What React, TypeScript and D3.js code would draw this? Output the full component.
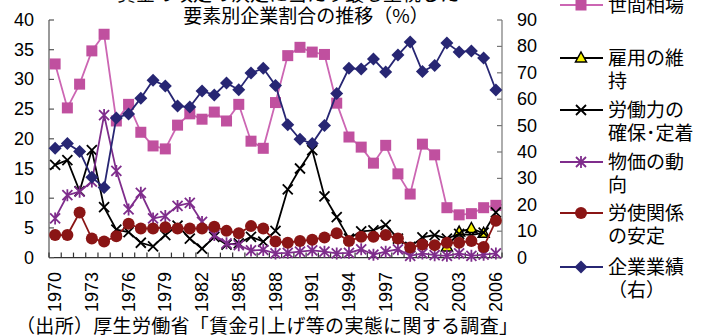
import React from "react";
import * as d3 from "d3";

const years = [1970,1971,1972,1973,1974,1975,1976,1977,1978,1979,1980,1981,1982,1983,1984,1985,1986,1987,1988,1989,1990,1991,1992,1993,1994,1995,1996,1997,1998,1999,2000,2001,2002,2003,2004,2005,2006];
const yearLabels = [1970,1973,1976,1979,1982,1985,1988,1991,1994,1997,2000,2003,2006];
const leftTicks = [0,5,10,15,20,25,30,35,40];
const rightTicks = [0,10,20,30,40,50,60,70,80,90];

const sekenSoba = [32.6,25.2,29.2,34.8,37.6,23.0,25.8,21.1,18.8,18.3,22.3,24.2,23.3,24.5,23.0,25.8,19.6,18.4,26.1,34.0,35.4,34.6,34.2,26.0,20.3,18.6,15.9,18.9,14.1,10.7,19.1,17.3,8.4,7.2,7.4,8.4,8.8];
const koyoIji: (number|null)[] = [null,null,null,null,null,null,null,null,null,null,null,null,null,null,null,null,null,null,null,null,null,null,null,null,null,null,null,null,null,null,null,null,1.8,4.3,4.9,4.1,null];
const rodoryoku = [15.6,16.4,11.2,18.1,8.5,4.7,4.3,2.5,1.9,3.8,5.4,3.2,1.5,3.5,2.2,2.4,3.5,2.7,4.5,11.5,15.0,18.1,10.3,6.8,3.2,4.4,4.6,5.5,3.2,1.8,3.4,3.8,3.2,4.0,3.8,4.2,7.6];
const bukka = [6.6,10.5,11.1,12.8,24.0,14.6,8.1,10.9,6.6,7.0,8.7,9.2,6.0,3.8,2.4,2.1,1.2,1.3,0.7,0.8,1.0,1.2,1.0,0.7,0.8,1.4,0.5,1.0,1.4,0.3,0.7,0.4,0.3,0.7,0.3,0.5,0.7];
const roshi = [3.8,3.8,7.6,3.2,2.7,3.6,5.7,4.9,4.9,5.1,4.9,4.9,4.9,5.2,4.5,4.1,5.3,4.9,2.7,2.5,2.8,3.0,3.4,4.1,2.8,3.5,3.5,3.8,3.2,1.7,2.2,2.1,2.5,2.5,2.8,1.8,6.2];
const gyoseki = [41.4,43.2,40.2,30.4,26.6,52.9,54.4,60.4,67.2,65.0,57.4,57.0,63.1,61.6,66.1,63.6,69.9,71.7,65.2,50.3,44.8,43.2,50.0,62.2,71.7,71.4,75.2,70.3,76.7,81.7,70.5,72.8,81.3,77.9,78.3,75.6,63.5];

const FONT = "'Liberation Sans', Arial, 'Noto Sans CJK JP', sans-serif";
const JFONT = "'Noto Sans CJK JP', 'Liberation Sans', sans-serif";

const C = {
  pink: "#c0509f",
  pinkLine: "#cc66b3",
  navy: "#272673",
  black: "#000000",
  purple: "#7f2d8c",
  red: "#8a1515",
  yellow: "#f5f000",
};

type MarkerKind = "square" | "triangle" | "x" | "star" | "circle" | "diamond";

function Marker({ kind, x, y }: { kind: MarkerKind; x: number; y: number }) {
  switch (kind) {
    case "square":
      return <rect x={x - 5.5} y={y - 5.5} width={11} height={11} fill={C.pink} />;
    case "triangle":
      return <path d={`M${x},${y - 6}L${x + 5.5},${y + 4}L${x - 5.5},${y + 4}Z`} fill={C.yellow} stroke="#000" strokeWidth={1.5} />;
    case "x":
      return <path d={`M${x - 5},${y - 5}L${x + 5},${y + 5}M${x - 5},${y + 5}L${x + 5},${y - 5}`} stroke={C.black} strokeWidth={1.8} />;
    case "star":
      return <path d={`M${x - 5},${y - 5}L${x + 5},${y + 5}M${x - 5},${y + 5}L${x + 5},${y - 5}M${x},${y - 6}L${x},${y + 6}`} stroke={C.purple} strokeWidth={1.8} />;
    case "circle":
      return <circle cx={x} cy={y} r={6} fill={C.red} />;
    case "diamond":
      return <path d={`M${x},${y - 6.5}L${x + 6.5},${y}L${x},${y + 6.5}L${x - 6.5},${y}Z`} fill={C.navy} />;
  }
}

export default function App() {
  const W = 701, H = 336;
  const left = 49, right = 502, top = 20, bottom = 257.6;
  const x = d3.scaleBand<number>().domain(years).range([left, right]);
  const cx = (yr: number) => (x(yr) as number) + x.bandwidth() / 2;
  const yL = d3.scaleLinear().domain([0, 40]).range([bottom, top]);
  const yR = d3.scaleLinear().domain([0, 90]).range([bottom, top]);

  const series: { data: (number|null)[]; scale: d3.ScaleLinear<number, number>; color: string; kind: MarkerKind; width: number }[] = [
    { data: sekenSoba, scale: yL, color: C.pinkLine, kind: "square", width: 1.8 },
    { data: koyoIji, scale: yL, color: C.black, kind: "triangle", width: 1.8 },
    { data: rodoryoku, scale: yL, color: C.black, kind: "x", width: 1.8 },
    { data: bukka, scale: yL, color: C.purple, kind: "star", width: 1.8 },
    { data: roshi, scale: yL, color: C.red, kind: "circle", width: 1.8 },
    { data: gyoseki, scale: yR, color: C.navy, kind: "diamond", width: 1.8 },
  ];

  const legend: { kind: MarkerKind; color: string; lines: string[]; y: number }[] = [
    { kind: "square", color: C.pinkLine, lines: ["世間相場"], y: 5 },
    { kind: "triangle", color: C.black, lines: ["雇用の維", "持"], y: 58 },
    { kind: "x", color: C.black, lines: ["労働力の", "確保･定着"], y: 110 },
    { kind: "star", color: C.purple, lines: ["物価の動", "向"], y: 162 },
    { kind: "circle", color: C.red, lines: ["労使関係", "の安定"], y: 213 },
    { kind: "diamond", color: C.navy, lines: ["企業業績", "（右）"], y: 267 },
  ];

  return (
    <svg width={W} height={H} style={{ position: "absolute", left: 0, top: 0, background: "#fff" }}>
      {/* title */}
      <text x={288} y={1} textAnchor="middle" fontFamily={JFONT} fontSize={19} fill="#000">賃金の改定の決定に当たり最も重視した</text>
      <text x={306} y={23} textAnchor="middle" fontFamily={JFONT} fontSize={19} fill="#000">要素別企業割合の推移（%）</text>

      {/* axes */}
      <line x1={left} x2={left} y1={top} y2={bottom} stroke="#555" strokeWidth={1.2} />
      <line x1={right} x2={right} y1={top} y2={bottom} stroke="#777" strokeWidth={1.2} />
      <line x1={left} x2={right} y1={bottom} y2={bottom} stroke="#333" strokeWidth={1.2} />
      {leftTicks.map(t => (
        <g key={"l" + t}>
          <line x1={left} x2={left + 5} y1={yL(t)} y2={yL(t)} stroke="#555" strokeWidth={1.2} />
          <text x={34} y={yL(t) + 6} textAnchor="end" fontFamily={FONT} fontSize={18}>{t}</text>
        </g>
      ))}
      {rightTicks.map(t => (
        <g key={"r" + t}>
          <line x1={right - 5} x2={right} y1={yR(t)} y2={yR(t)} stroke="#777" strokeWidth={1.2} />
          <text x={517} y={yR(t) + 6} textAnchor="start" fontFamily={FONT} fontSize={18}>{t}</text>
        </g>
      ))}
      {years.concat([2007]).map((yr, i) => {
        const xx = left + i * x.bandwidth();
        return <line key={"xt" + yr} x1={xx} x2={xx} y1={bottom} y2={bottom - 5} stroke="#333" strokeWidth={1.2} />;
      })}
      {yearLabels.map(yr => (
        <text key={"xl" + yr} transform={`translate(${cx(yr) + 6},272) rotate(-90)`} textAnchor="end" fontFamily={FONT} fontSize={18}>{yr}</text>
      ))}

      {/* series */}
      {series.map((s, si) => {
        const line = d3.line<number | null>()
          .defined(d => d !== null)
          .x((_, i) => cx(years[i]))
          .y(d => s.scale(d as number));
        return (
          <g key={"s" + si}>
            <path d={line(s.data) || ""} fill="none" stroke={s.color} strokeWidth={s.width} />
            {s.data.map((d, i) => d === null ? null : <Marker key={i} kind={s.kind} x={cx(years[i])} y={s.scale(d)} />)}
          </g>
        );
      })}

      {/* legend */}
      {legend.map((l, i) => (
        <g key={"lg" + i}>
          <line x1={560} x2={603} y1={l.y} y2={l.y} stroke={l.color} strokeWidth={1.8} />
          <Marker kind={l.kind} x={581} y={l.y} />
          {l.lines.map((t, j) => (
            <text key={j} x={608} y={l.y + 7 + j * 23} fontFamily={JFONT} fontSize={19}>{t}</text>
          ))}
        </g>
      ))}

      {/* source */}
      <text x={16} y={333} fontFamily={JFONT} fontSize={19} textLength={502} lengthAdjust="spacing">（出所）厚生労働省「賃金引上げ等の実態に関する調査」</text>
    </svg>
  );
}
